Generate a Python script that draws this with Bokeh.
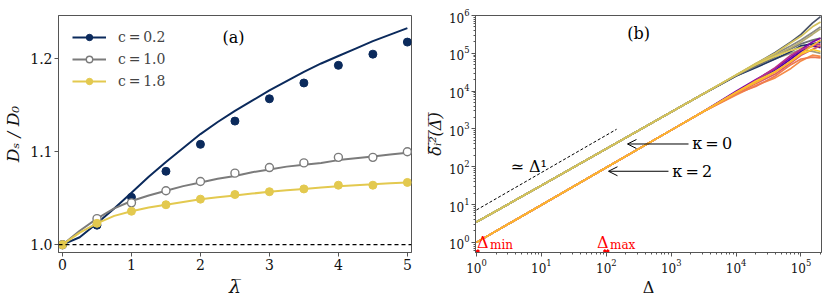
import math
from bokeh.plotting import figure
from bokeh.layouts import row
from bokeh.models import (Span, Legend, LegendItem, Arrow, OpenHead, FixedTicker,
                          PrintfTickFormatter)
from bokeh.core.properties import value
from bokeh.embed import file_html
from bokeh.resources import INLINE

SERIF = "DejaVu Serif"
TS = "\u2009"  # thin space
OL = "\u0305"  # combining overline

# ---------------- panel (a) data ----------------
lam_sim = [0, 0.5, 1.0, 1.5, 2.0, 2.5, 3.0, 3.5, 4.0, 4.5, 5.0]
sim_c02 = [1.000, 1.021, 1.051, 1.079, 1.108, 1.133, 1.157, 1.174, 1.193, 1.205, 1.218]
sim_c10 = [1.000, 1.028, 1.045, 1.058, 1.068, 1.077, 1.083, 1.088, 1.094, 1.094, 1.100]
sim_c18 = [1.000, 1.023, 1.036, 1.043, 1.049, 1.054, 1.057, 1.060, 1.064, 1.064, 1.067]

lam_th = [0, 0.25, 0.5, 0.75, 1.0, 1.25, 1.5, 1.75, 2.0, 2.25, 2.5, 2.75,
          3.0, 3.25, 3.5, 3.75, 4.0, 4.25, 4.5, 4.75, 5.0]
th_c02 = [1.000, 1.008, 1.023, 1.039, 1.056, 1.073, 1.089, 1.104, 1.119, 1.132, 1.144,
          1.155, 1.166, 1.176, 1.186, 1.195, 1.203, 1.211, 1.219, 1.226, 1.233]
th_c10 = [1.000, 1.015, 1.028, 1.039, 1.047, 1.053, 1.058, 1.063, 1.067, 1.071, 1.074,
          1.078, 1.081, 1.084, 1.086, 1.088, 1.091, 1.093, 1.095, 1.097, 1.099]
th_c18 = [1.000, 1.013, 1.023, 1.031, 1.036, 1.040, 1.043, 1.046, 1.049, 1.051, 1.053,
          1.055, 1.057, 1.0585, 1.060, 1.0615, 1.063, 1.064, 1.065, 1.066, 1.067]

labels_a = [f"c{TS}={TS}0.2", f"c{TS}={TS}1.0", f"c{TS}={TS}1.8"]
colors_a = ["#0b2a5c", "#7b7b7b", "#e3c94f"]
x_ticks_a = [0, 1, 2, 3, 4, 5]
y_ticks_a = [1.0, 1.1, 1.2]

# ---------------- panel (b) data ----------------
delta = [1, 10, 100, 1000, 3000, 10000, 20000, 40000, 70000, 100000, 150000, 200000]
# kappa = 0 trajectories (cividis-like colours)
k0_lines = [
    [3.45, 32, 300, 2800, 8100, 25700, 50100, 95500, 158000, 224000, 355000, 501000],
    [3.45, 32, 300, 2800, 8100, 26300, 52500, 105000, 200000, 316000, 631000, 933000],
    [3.45, 32, 300, 2800, 8100, 25100, 43700, 72400, 100000, 126000, 112000, 100000],
    [3.45, 32, 300, 2800, 8100, 25100, 41700, 70800, 112000, 158000, 178000, 200000],
    [3.45, 32, 300, 2800, 8100, 25700, 45700, 79400, 132000, 178000, 224000, 251000],
    [3.45, 32, 300, 2800, 8100, 26300, 52500, 89100, 141000, 200000, 316000, 447000],
    [3.45, 32, 300, 2800, 8100, 26900, 50100, 83200, 120000, 141000, 151000, 158000],
    [3.45, 32, 300, 2800, 8100, 26900, 53700, 100000, 190000, 282000, 501000, 676000],
]
k0_colors = ["#8a8a84", "#4c5568", "#a19c7c", "#1f3864", "#6f7275", "#b5ab70", "#e2cd55", "#d3c25c"]
# kappa = 2 trajectories (plasma-like colours)
k2_lines = [
    [1.0, 9.8, 96, 930, 2750, 9550, 17800, 35500, 70800, 112000, 158000, 141000],
    [1.0, 9.8, 96, 930, 2750, 10000, 20000, 39800, 79400, 126000, 200000, 251000],
    [1.0, 9.8, 96, 930, 2750, 8900, 19100, 41700, 89100, 126000, 158000, 178000],
    [1.0, 9.8, 96, 930, 2750, 8300, 15800, 28200, 56200, 89100, 126000, 158000],
    [1.0, 9.8, 96, 930, 2750, 7900, 14100, 22400, 39800, 63100, 89100, 83200],
    [1.0, 9.8, 96, 930, 2750, 8500, 13200, 25100, 50100, 70800, 79400, 75900],
    [1.0, 9.8, 96, 930, 2750, 9300, 18200, 33100, 60300, 95500, 126000, 112000],
    [1.0, 9.8, 96, 930, 2750, 9100, 16600, 31600, 63100, 100000, 158000, 224000],
]
k2_colors = ["#4b03a1", "#7e03a8", "#b83289", "#d8576b", "#f58b47", "#ee7a50", "#fcce25", "#fdb32f"]

guide_delta = [1, 144]
guide_msd = [7.2, 980]
window_delta = [1, 100]
y_min_b = 0.54


def style_axis(ax, size):
    ax.major_label_text_font = SERIF
    ax.major_label_text_font_size = size
    ax.major_label_text_color = "#111111"
    ax.axis_label_text_font = SERIF
    ax.axis_label_text_color = "#111111"
    ax.axis_line_color = "#555555"
    ax.major_tick_line_color = "#555555"
    ax.major_tick_out = 4
    ax.major_tick_in = 0
    ax.major_label_standoff = 2


# ---------------- panel (a) ----------------
p1 = figure(width=420, height=299, x_range=(-0.058, 5.06), y_range=(0.9916, 1.2466),
            output_backend="svg", toolbar_location=None,
            min_border_left=56, min_border_right=9, min_border_top=10, min_border_bottom=43)
p1.grid.visible = False
p1.outline_line_color = "#555555"

p1.add_layout(Span(location=1.0, dimension="width", line_color="black",
                   line_dash="4 3", line_width=1.2))

sims = [sim_c02, sim_c10, sim_c18]
ths = [th_c02, th_c10, th_c18]
items = []
for i in range(3):
    lr = p1.line(lam_th, ths[i], line_color=colors_a[i], line_width=2)
    if i == 1:
        sr = p1.scatter(lam_sim, sims[i], size=8, marker="circle", fill_color="white",
                        line_color=colors_a[i], line_width=1.4)
    else:
        sr = p1.scatter(lam_sim, sims[i], size=8, marker="circle", fill_color=colors_a[i],
                        line_color=colors_a[i])
    items.append(LegendItem(label=labels_a[i], renderers=[lr, sr]))

leg = Legend(items=items, location="top_left", border_line_alpha=0,
             background_fill_alpha=0, label_text_font=SERIF, label_text_font_size="14px",
             glyph_width=34, glyph_height=16, label_height=16, spacing=6, padding=4,
             margin=10, label_standoff=12)
p1.add_layout(leg)

p1.text(x=[2.48], y=[1.2225], text=["(a)"], text_font=value(SERIF), text_font_size="16px",
        text_align="center", text_baseline="middle", text_color="black")

style_axis(p1.xaxis[0], "14px")
style_axis(p1.yaxis[0], "14px")
p1.xaxis.minor_tick_line_color = None
p1.yaxis.minor_tick_line_color = None
p1.xaxis.ticker = FixedTicker(ticks=x_ticks_a)
p1.yaxis.ticker = FixedTicker(ticks=y_ticks_a)
p1.yaxis.formatter = PrintfTickFormatter(format="%.1f")
p1.xaxis.axis_label = "λ̅"
p1.xaxis.axis_label_text_font_size = "19px"
p1.xaxis.axis_label_standoff = 2
p1.yaxis.axis_label = "Dₛ / D₀"
p1.yaxis.axis_label_text_font_size = "17px"
p1.yaxis.axis_label_standoff = 4

# ---------------- panel (b) ----------------
p2 = figure(width=403, height=299, x_axis_type="log", y_axis_type="log",
            x_range=(0.965, 2.07e5), y_range=(y_min_b, 1e6),
            output_backend="svg", toolbar_location=None,
            min_border_left=55, min_border_right=2, min_border_top=15, min_border_bottom=43)
p2.grid.visible = False
p2.outline_line_color = "#555555"

for ys, c in zip(k0_lines, k0_colors):
    p2.line(delta, ys, line_color=c, line_width=1.7)
for ys, c in zip(k2_lines, k2_colors):
    p2.line(delta, ys, line_color=c, line_width=1.7)

p2.line(guide_delta, guide_msd, line_color="black", line_dash="3 2", line_width=1)

p2.scatter(window_delta, [y_min_b] * len(window_delta), marker="x", size=7,
           line_color="red", line_width=3)

p2.text(x=[1.02, 72], y=[1.0, 1.0], text=["Δ", "Δ"], text_font=value(SERIF),
        text_font_size="16px", text_color="red", text_align="left", text_baseline="alphabetic")
p2.text(x=[1.02, 72], y=[1.0, 1.0], text=["min", "max"], text_font=value(SERIF),
        text_font_size="12px", text_color="red", text_align="left", text_baseline="alphabetic",
        x_offset=13, y_offset=3)

p2.text(x=[3.34], y=[103], text=["≃ Δ¹"], text_font=value(SERIF), text_font_size="16px",
        text_align="left", text_baseline="alphabetic", text_color="black")
p2.text(x=[316], y=[3.4e5], text=["(b)"], text_font=value(SERIF), text_font_size="16px",
        text_align="center", text_baseline="middle", text_color="black")
p2.text(x=[2105, 1036], y=[410, 76], text=[f"κ{TS}={TS}0", f"κ{TS}={TS}2"],
        text_font=value(SERIF), text_font_size="16px", text_align="left",
        text_baseline="middle", text_color="black")

p2.add_layout(Arrow(end=OpenHead(size=9, line_width=1, line_color="black"),
                    x_start=1849, y_start=400, x_end=212, y_end=400,
                    line_color="black", line_width=1))
p2.add_layout(Arrow(end=OpenHead(size=9, line_width=1, line_color="black"),
                    x_start=908, y_start=76, x_end=108, y_end=76,
                    line_color="black", line_width=1))

style_axis(p2.xaxis[0], "12px")
style_axis(p2.yaxis[0], "12px")
for ax in (p2.xaxis[0], p2.yaxis[0]):
    ax.minor_tick_line_color = "#555555"
    ax.minor_tick_out = 2
    ax.minor_tick_in = 0
p2.xaxis.axis_label = "Δ"
p2.xaxis.axis_label_text_font_size = "16px"
p2.xaxis.axis_label_text_font_style = "normal"
p2.xaxis.axis_label_standoff = 2
p2.yaxis.axis_label = "".join(ch + OL for ch in "δᵢ²(Δ)")
p2.yaxis.axis_label_text_font_size = "16px"
p2.yaxis.axis_label_text_font_style = "italic"
p2.yaxis.axis_label_standoff = 1

layout = row(p1, p2)
open("out.html", "w").write(file_html(layout, INLINE))
